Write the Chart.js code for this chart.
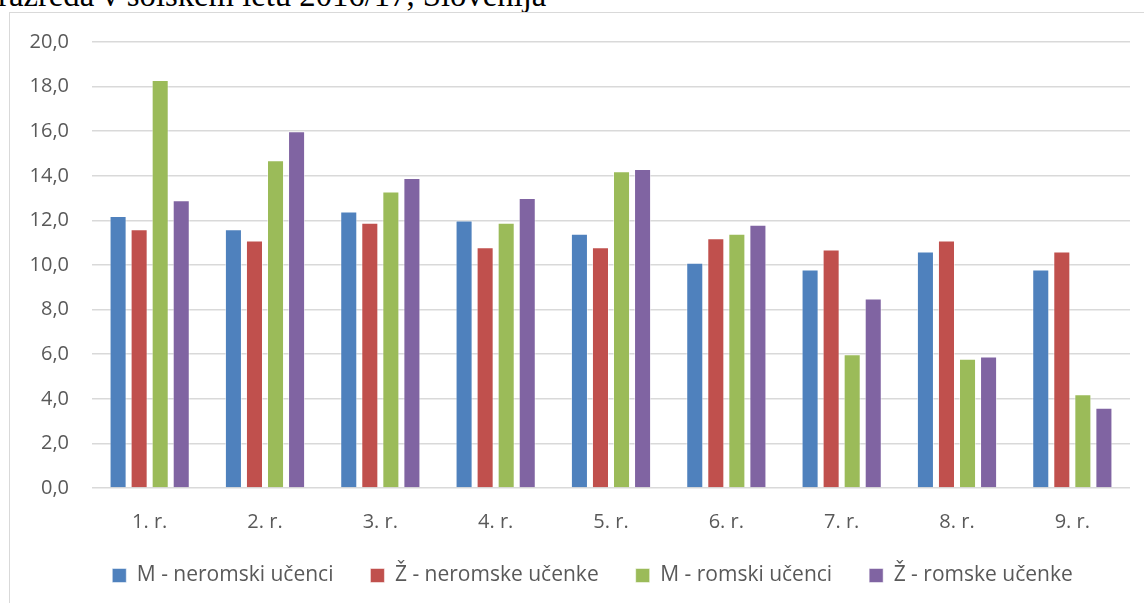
<!DOCTYPE html>
<html>
<head>
<meta charset="utf-8">
<script src="https://cdn.jsdelivr.net/npm/chart.js@4.4.0/dist/chart.umd.min.js"></script>
<style>
  html, body { margin:0; padding:0; background:#fff; overflow:hidden; }
  #wrap { position:relative; width:1144px; height:603px; overflow:hidden; }
  #title { position:absolute; left:-2px; top:-21px; font:32.7px "Liberation Serif", "Times New Roman", serif; line-height:33px; color:#000; white-space:nowrap; }
  #frame { position:absolute; left:9px; top:12px; width:1200px; height:700px; border:1.5px solid #d9d9d9; box-sizing:border-box; }
  #chart { position:absolute; left:0; top:0; }
</style>
</head>
<body>
<div id="wrap">
  <div id="title">razreda v šolskem letu 2016/17, Slovenija</div>
  <div id="frame"></div>
  <canvas id="chart" width="1144" height="603"></canvas>
</div>
<script>
// DATA
const grades = ['1. r.', '2. r.', '3. r.', '4. r.', '5. r.', '6. r.', '7. r.', '8. r.', '9. r.'];
const seriesNames = ['M - neromski učenci', 'Ž - neromske učenke', 'M - romski učenci', 'Ž - romske učenke'];
const mNeromski = [12.2, 11.6, 12.4, 12.0, 11.4, 10.1, 9.8, 10.6, 9.8];
const zNeromske = [11.6, 11.1, 11.9, 10.8, 10.8, 11.2, 10.7, 11.1, 10.6];
const mRomski   = [18.3, 14.7, 13.3, 11.9, 14.2, 11.4, 6.0, 5.8, 4.2];
const zRomske   = [12.9, 16.0, 13.9, 13.0, 14.3, 11.8, 8.5, 5.9, 3.6];
const colors    = ['#4F81BD', '#C0504D', '#9BBB59', '#8064A2'];

const FONT = '"Open Sans", sans-serif';
const grey = '#595959';

const ds = [mNeromski, zNeromske, mRomski, zRomske].map((vals, i) => ({
  label: seriesNames[i],
  data: vals,
  backgroundColor: colors[i],
  borderColor: 'rgba(255,255,255,0.5)',
  borderWidth: 1,
  categoryPercentage: 0.73,
  barPercentage: 0.81
}));

// move the legend row so it sits centred under the frame like the original
const legendPlace = {
  id: 'legendPlace',
  afterLayout(chart) {
    const lg = chart.legend;
    lg.left = 55;
    lg.right = chart.chartArea.right;
    lg.top = 528;
  }
};

new Chart(document.getElementById('chart'), {
  type: 'bar',
  data: { labels: grades, datasets: ds },
  plugins: [legendPlace],
  options: {
    responsive: false,
    animation: false,
    devicePixelRatio: 1,
    layout: { padding: { left: 0, right: 14, top: 42, bottom: 5 } },
    plugins: {
      tooltip: { enabled: false },
      legend: {
        position: 'bottom',
        labels: {
          color: grey,
          font: { family: FONT, size: 21 },
          boxWidth: 14,
          boxHeight: 14,
          padding: 37
        }
      }
    },
    scales: {
      x: {
        grid: { display: false },
        border: { display: false },
        ticks: { color: grey, font: { family: FONT, size: 20 }, padding: 14 },
        afterFit: s => { s.height = 42; }
      },
      y: {
        min: 0, max: 20,
        grid: { color: '#d9d9d9', lineWidth: 1.5, drawTicks: false },
        border: { display: false },
        ticks: {
          stepSize: 2,
          color: grey,
          font: { family: FONT, size: 20 },
          padding: 23,
          callback: v => v.toFixed(1).replace('.', ',')
        },
        afterFit: s => { s.width = 92; }
      }
    }
  }
});
</script>
</body>
</html>
